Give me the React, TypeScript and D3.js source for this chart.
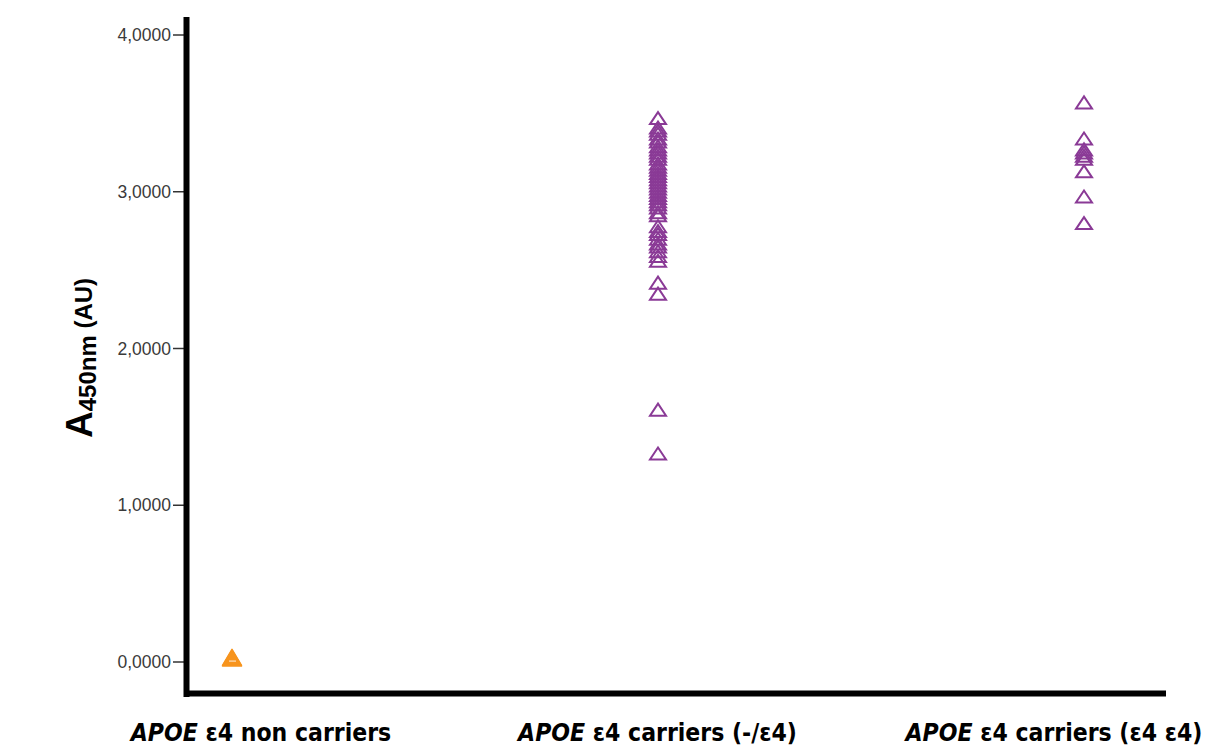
import React from "react";
import * as d3 from "d3";

const categories = ["APOE ε4 non carriers", "APOE ε4 carriers (-/ε4)", "APOE ε4 carriers (ε4 ε4)"];
const labelParts = [
  { it: "APOE", rest: " ε4 non carriers" },
  { it: "APOE", rest: " ε4 carriers (-/ε4)" },
  { it: "APOE", rest: " ε4 carriers (ε4 ε4)" },
];
const nonCarriers = [0.025, 0.03];
const carriersHet = [
  3.47, 3.41, 3.39, 3.37, 3.34, 3.32, 3.29, 3.27, 3.25, 3.23, 3.21, 3.18, 3.16, 3.14,
  3.12, 3.10, 3.08, 3.06, 3.04, 3.02, 3.00, 2.98, 2.96, 2.94, 2.92, 2.90, 2.87, 2.85,
  2.78, 2.75, 2.73, 2.70, 2.67, 2.65, 2.62, 2.59, 2.56, 2.42, 2.35, 1.61, 1.33,
];
const carriersHom = [3.57, 3.34, 3.27, 3.25, 3.23, 3.21, 3.13, 2.97, 2.80];
const yTicks = [0, 1, 2, 3, 4];

const W = 1205;
const H = 756;

export default function App() {
  const y = d3.scaleLinear().domain([0, 4]).range([662, 35]);
  const x = d3.scalePoint<string>().domain(categories).range([232, 1084]);
  const xl = d3.scalePoint<string>().domain(categories).range([261, 1054]);
  const series = [nonCarriers, carriersHet, carriersHom];
  const tri = (cx: number, cy: number, w: number, h: number) =>
    `M${cx},${cy - h / 2}L${cx + w / 2},${cy + h / 2}L${cx - w / 2},${cy + h / 2}Z`;

  return (
    <svg width={W} height={H} style={{ position: "absolute", left: 0, top: 0, background: "#fff" }}>
      {/* ticks */}
      {yTicks.map((t) => (
        <g key={t}>
          <line x1={173} x2={185} y1={y(t)} y2={y(t)} stroke="#333" strokeWidth={1.5} />
          <text
            x={171}
            y={y(t)}
            dy="0.35em"
            textAnchor="end"
            fontFamily="Liberation Sans, Arial, sans-serif"
            fontSize={17.5}
            fill="#3a3a3a"
          >
            {d3.format(".4f")(t).replace(".", ",")}
          </text>
        </g>
      ))}
      {/* axes */}
      <line x1={186.5} x2={186.5} y1={17} y2={697} stroke="#000" strokeWidth={6} />
      <line x1={184} x2={1166} y1={693.5} y2={693.5} stroke="#000" strokeWidth={6} />

      {/* points */}
      {series.map((vals, i) =>
        vals.map((v, j) =>
          i === 0 ? (
            <path
              key={`${i}-${j}`}
              d={tri(x(categories[i])!, y(v), 19, 16)}
              fill="#f7941d"
              stroke="#f7941d"
              strokeWidth={1.5}
              strokeLinejoin="round"
            />
          ) : (
            <path
              key={`${i}-${j}`}
              d={tri(x(categories[i])!, y(v), 16, 12)}
              fill="none"
              stroke="#8a3a96"
              strokeWidth={2}
            />
          )
        )
      )}
      <line x1={229} x2={236} y1={y(nonCarriers[0]) + 3} y2={y(nonCarriers[0]) + 3} stroke="#fde2c0" strokeWidth={1.2} />

      {/* x labels */}
      {categories.map((c, i) => (
        <text
          key={c}
          x={xl(c)}
          y={741}
          textAnchor="middle"
          fontFamily="DejaVu Sans Condensed, DejaVu Sans, sans-serif"
          fontStretch="condensed"
          fontWeight="bold"
          fontSize={24.5}
          fill="#000"
        >
          <tspan fontStyle="italic">{labelParts[i].it}</tspan>
          {labelParts[i].rest}
        </text>
      ))}

      {/* y label */}
      <text
        transform="translate(92,438) rotate(-90)"
        fontFamily="Liberation Sans, Arial, sans-serif"
        fontWeight="bold"
        fill="#000"
      >
        <tspan fontSize={37}>A</tspan>
        <tspan fontSize={24} dy={4}>450nm</tspan>
        <tspan fontSize={24} dy={-4}> (AU)</tspan>
      </text>
    </svg>
  );
}
